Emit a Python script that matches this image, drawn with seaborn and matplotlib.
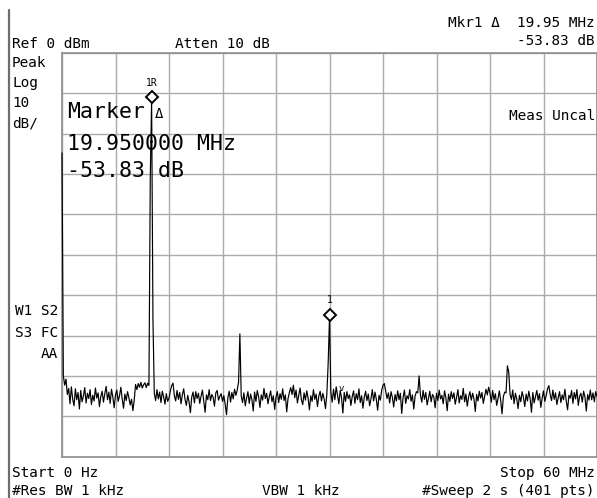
import numpy as np
import seaborn as sns
import matplotlib.pyplot as plt
from matplotlib import transforms
from matplotlib.lines import Line2D

# analyzer settings shown on screen
START_MHZ = 0.0
STOP_MHZ = 60.0
N_PTS = 401
REF_DBM = 0
DB_PER_DIV = 10

# trace, one value per sweep point (dBm)
LEVEL_DBM = [
    -24.8, -80.0, -82.3, -80.8, -84.6, -83.1, -86.9, -82.7, -85.8, -87.4, -83.2, -85.9, -84.1, -88.2, -83.6, -86.4, -85.0, -82.9, -86.7, -84.3,
    -85.6, -83.4, -87.1, -84.8, -86.2, -83.0, -85.5, -84.2, -87.6, -85.1, -83.8, -86.5, -84.4, -82.6, -85.9, -84.0, -86.8, -83.3, -85.2, -87.9,
    -84.7, -83.5, -86.3, -84.9, -82.8, -85.7, -88.0, -84.5, -86.1, -83.9, -85.4, -87.2, -85.8, -88.6, -86.0, -82.1, -83.4, -81.9, -82.8, -81.6,
    -83.0, -82.2, -81.7, -82.9, -81.8, -82.4, -31.0, -11.8, -66.0, -84.3, -86.1, -83.4, -85.7, -84.0, -86.6, -83.8, -85.2, -87.0, -84.4, -86.3,
    -85.5, -83.7, -82.4, -81.8, -84.9, -86.2, -83.6, -85.8, -84.1, -86.9, -84.6, -83.2, -85.9, -87.3, -84.8, -86.4, -89.1, -85.2, -84.0, -86.7,
    -83.9, -85.6, -84.3, -86.8, -85.0, -83.5, -86.2, -89.0, -84.7, -85.9, -83.4, -86.1, -84.6, -85.3, -87.5, -84.2, -83.6, -86.0, -85.1, -84.4,
    -86.3, -84.9, -87.0, -89.6, -85.4, -83.8, -86.5, -84.1, -85.7, -83.3, -84.8, -83.5, -81.6, -69.6, -85.0, -86.6, -84.2, -87.4, -85.5, -83.9,
    -86.8, -84.5, -85.9, -88.7, -84.0, -86.3, -83.6, -85.2, -87.8, -84.7, -86.0, -83.1, -85.6, -84.3, -86.9, -85.1, -83.7, -86.4, -84.9, -88.3,
    -85.3, -83.9, -86.6, -84.4, -85.8, -83.2, -86.1, -84.7, -88.9, -85.6, -84.1, -82.9, -84.6, -82.3, -85.4, -83.5, -86.7, -84.8, -83.0, -85.9,
    -87.1, -84.2, -86.0, -83.7, -85.5, -88.4, -84.9, -86.3, -83.4, -85.8, -84.5, -87.6, -85.0, -83.8, -86.2, -84.3, -85.7, -88.1, -84.6, -76.9,
    -65.6, -84.0, -86.5, -83.3, -85.9, -82.7, -84.8, -86.9, -83.6, -85.4, -89.2, -84.1, -86.3, -83.9, -85.6, -84.7, -87.3, -85.1, -83.7, -86.8,
    -84.4, -85.9, -83.2, -86.6, -84.9, -88.0, -85.3, -83.8, -86.1, -84.5, -87.4, -85.7, -83.4, -86.2, -84.0, -85.8, -88.5, -84.8, -86.0, -83.6,
    -82.3, -81.9, -83.8, -85.6, -84.2, -86.7, -83.9, -85.3, -87.7, -84.6, -86.2, -83.7, -85.9, -84.3, -89.3, -85.4, -83.5, -86.8, -84.9, -85.7,
    -83.4, -86.3, -84.7, -88.2, -85.0, -83.9, -84.2, -80.0, -84.8, -86.5, -83.6, -85.8, -84.1, -87.2, -85.5, -83.8, -86.4, -84.6, -85.2, -87.9,
    -84.3, -86.1, -83.5, -85.7, -84.8, -86.9, -83.7, -85.4, -88.6, -84.5, -86.3, -83.9, -85.6, -84.2, -87.0, -85.3, -83.4, -86.7, -84.9, -85.8,
    -83.1, -86.4, -84.5, -87.5, -85.2, -83.9, -86.0, -84.3, -85.7, -88.8, -84.6, -86.2, -83.8, -85.5, -84.1, -86.8, -85.0, -83.3, -84.7, -82.8,
    -84.2, -86.5, -83.6, -85.9, -84.4, -87.3, -85.6, -83.7, -86.1, -89.4, -85.1, -84.0, -84.2, -77.5, -79.0, -84.6, -85.8, -83.5, -86.9, -84.3,
    -85.7, -88.1, -84.8, -86.4, -83.9, -85.3, -87.6, -84.5, -86.2, -83.8, -85.6, -89.0, -84.1, -86.7, -85.2, -83.6, -86.0, -84.4, -87.8, -85.5,
    -83.7, -86.3, -84.9, -83.2, -82.4, -84.6, -86.1, -83.5, -85.8, -84.2, -87.1, -85.4, -83.9, -86.6, -84.7, -85.9, -83.3, -86.2, -88.4, -84.8,
    -85.5, -83.6, -86.8, -84.1, -85.7, -83.4, -87.3, -85.0, -84.3, -86.5, -83.8, -85.2, -88.7, -84.6, -86.0, -83.5, -85.9, -84.2, -86.4, -83.9,
    -85.1,
]

# markers: sweep index and label
MARKER_IDX = [67, 200]
MARKER_LABELS = ["1R", "1"]

freq = np.linspace(START_MHZ, STOP_MHZ, N_PTS)

sns.set_theme(style="white")
plt.rcParams['font.family'] = ['DejaVu Sans Mono', 'DejaVu Sans']

W, H = 597, 498
fig = plt.figure(figsize=(W / 100, H / 100), dpi=100)
fig.patch.set_facecolor('white')

# graticule box in pixel terms
left, top, right, bottom = 62, 52.7, 597, 456.7
ax = fig.add_axes([left / W, 1 - bottom / H, (right - left) / W, (bottom - top) / H])

sns.lineplot(x=freq, y=LEVEL_DBM, color='black', linewidth=0.85, ax=ax)
# keep the 0 Hz spike visible on top of the left border
for ln in ax.lines:
    ln.set_clip_on(False)
    ln.set_zorder(4)

ax.set_xlim(START_MHZ, STOP_MHZ)
ax.set_ylim(REF_DBM - 10 * DB_PER_DIV, REF_DBM)
ax.set_xticks(np.linspace(START_MHZ, STOP_MHZ, 11))
ax.set_yticks(np.arange(REF_DBM - 10 * DB_PER_DIV, REF_DBM + 1, DB_PER_DIV))
ax.set_xticklabels([])
ax.set_yticklabels([])
ax.tick_params(length=0)
ax.set_xlabel("")
ax.set_ylabel("")
ax.grid(True, color='#ababab', linewidth=1.0)
ax.set_axisbelow(True)
for s in ax.spines.values():
    s.set_color('#8f8f8f')
    s.set_linewidth(1.2)

# marker diamonds sit a few pixels above the trace point
mk_tr = transforms.offset_copy(ax.transData, fig=fig, x=0, y=3, units='dots')
for idx, lab in zip(MARKER_IDX, MARKER_LABELS):
    ax.plot(freq[idx], LEVEL_DBM[idx], marker='D', ms=6, mfc='white', mec='black',
            mew=1.4, transform=mk_tr, clip_on=False, zorder=5)
    ax.annotate(lab, (freq[idx], LEVEL_DBM[idx]), xytext=(0, 10.5), textcoords='offset points',
                ha='center', va='baseline', fontsize=7, color='black')


def label(x, y, s, size=10.4, ha='left'):
    fig.text(x / W, 1 - y / H, s, fontsize=size, ha=ha, va='baseline', color='black')


# header
label(595, 27, "Mkr1 Δ  19.95 MHz", ha='right')
label(595, 45, "-53.83 dB", ha='right')
label(12, 48, "Ref 0 dBm")
label(175, 48, "Atten 10 dB")

# left column
label(12, 67, "Peak")
label(12, 87, "Log")
label(12, 107, "10")
label(12, 127, "dB/")
label(58, 315, "W1 S2", ha='right')
label(58, 337, "S3 FC", ha='right')
label(58, 358, "AA", ha='right')

# marker readout
label(67, 118, "Marker", size=15.5)
label(155, 118, "Δ", size=10)
label(67, 150, "19.950000 MHz", size=15.5)
label(67, 177, "-53.83 dB", size=15.5)
label(595, 120, "Meas Uncal", ha='right')
label(341, 391, "v", size=6.5, ha='center')

# footer
label(12, 477, "Start 0 Hz")
label(595, 477, "Stop 60 MHz", ha='right')
label(12, 495, "#Res BW 1 kHz")
label(301, 495, "VBW 1 kHz", ha='center')
label(595, 495, "#Sweep 2 s (401 pts)", ha='right')

# screen frame edge on the left
fig.add_artist(Line2D([8.5 / W, 8.5 / W], [0, 1 - 10 / H], transform=fig.transFigure,
                      color='#6e6e6e', linewidth=1.6))

fig.savefig("out.png", dpi=100, facecolor='white')
